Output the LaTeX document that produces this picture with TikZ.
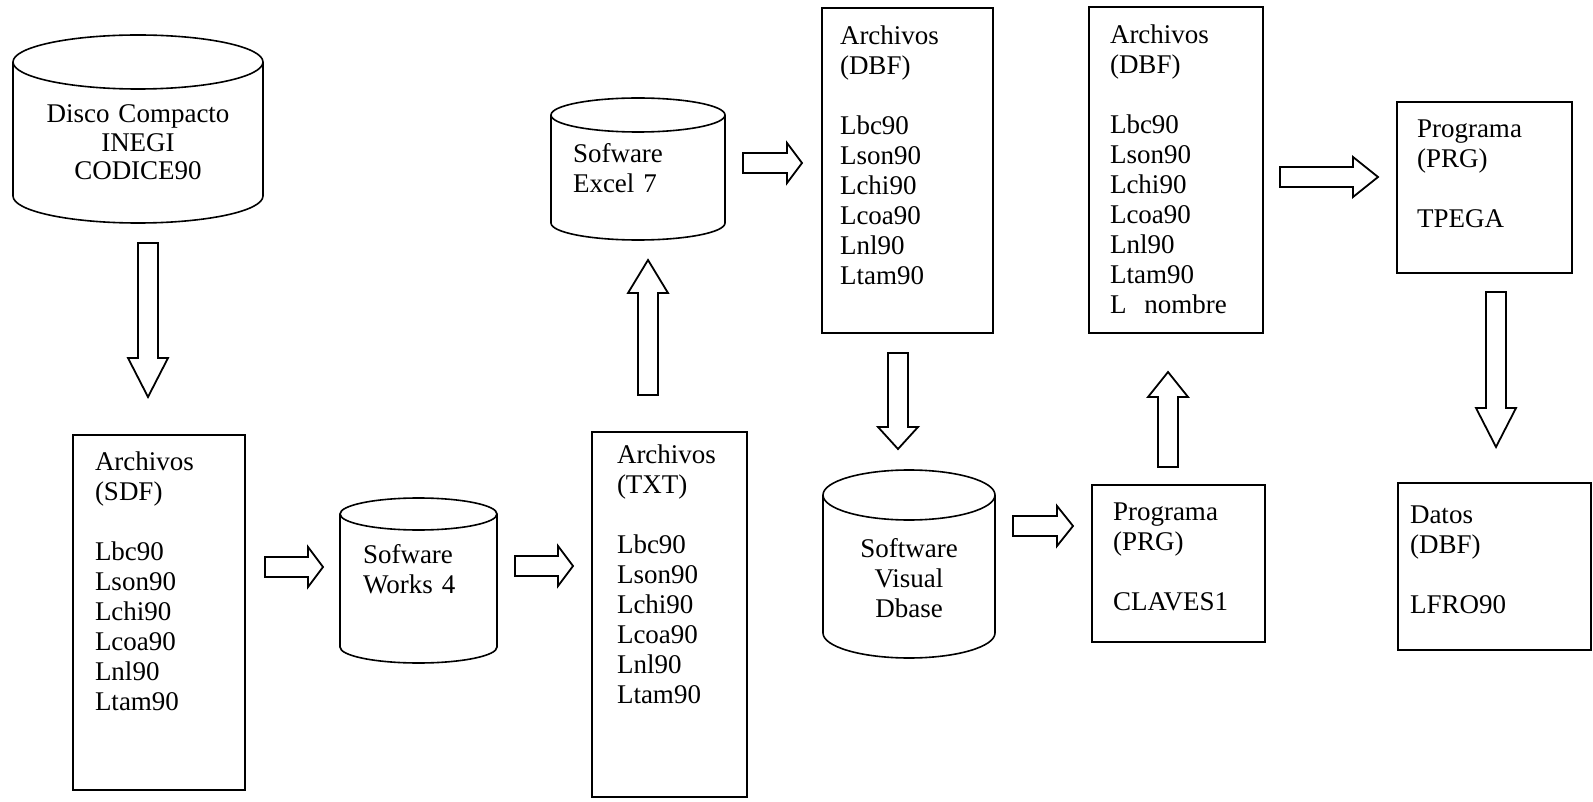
\documentclass[tikz,border=0pt]{standalone}
\usepackage{fontspec}
\setmainfont{Liberation Serif}
\usetikzlibrary{calc,positioning}

% flecha de bloque: [largo de la punta]{cola}{punta}
\newcommand\blockarr[3][22pt]{%
  \coordinate (bah) at ($(#3)!#1!(#2)$);
  \draw[flow] ($(#2)!10pt!90:(#3)$) -- ($(bah)!10pt!90:(#3)$) -- ($(bah)!20pt!90:(#3)$) -- (#3)
    -- ($(bah)!20pt!-90:(#3)$) -- ($(bah)!10pt!-90:(#3)$) -- ($(#2)!10pt!-90:(#3)$) -- cycle;}

% contorno de cilindro alrededor de un nodo: {nombre}{radio y}
\newcommand\cylout[2]{%
  \draw[cylline] let \p1=($(#1.north east)-(#1.north west)$) in
    (#1.north west) -- (#1.south west)
    arc[start angle=180, end angle=360, x radius=0.5*\x1, y radius=#2]
    -- (#1.north east)
    arc[start angle=0, end angle=360, x radius=0.5*\x1, y radius=#2];}

\begin{document}
\begin{tikzpicture}[x=1pt, y=-1pt,
    font=\fontsize{27}{30}\selectfont,
    box/.style={draw, line width=1.6pt, anchor=north west, align=left, inner ysep=0pt, outer sep=0pt},
    cyl/.style={anchor=north west, align=center, inner sep=0pt, outer sep=0pt},
    cylline/.style={line width=1.6pt},
    flow/.style={line width=1.8pt, line join=miter}]
    \useasboundingbox (0,0) rectangle (1593,802);

    % cilindros
    \node[cyl, text width=250pt, text height=61pt, text depth=73pt, font=\fontsize{27}{28.5}\selectfont] (disco) at (13,62)
        {Disco Compacto\\INEGI\\CODICE90};
    \cylout{disco}{27pt}
    \node[cyl, align=left, inner xsep=23pt, text width=111pt, text height=49pt, text depth=84pt] (works) at (340,514)
        {Sofware\\Works 4};
    \cylout{works}{16pt}
    \node[cyl, align=left, inner xsep=22pt, text width=130pt, text height=48pt, text depth=60pt] (excel) at (551,115)
        {Sofware\\Excel 7};
    \cylout{excel}{17pt}
    \node[cyl, text width=172pt, text height=62pt, text depth=76pt] (visual) at (823,495)
        {Software\\Visual\\Dbase};
    \cylout{visual}{25pt}

    % archivos y programas
    \node[box, inner xsep=22pt, text width=128pt, text height=35pt, text depth=320pt] (sdf) at (73,435)
        {Archivos\\(SDF)\\[30pt]Lbc90\\Lson90\\Lchi90\\Lcoa90\\Lnl90\\Ltam90};
    \node[box, inner xsep=25pt, text width=105pt, text height=31pt, text depth=334pt] (txt) at (592,432)
        {Archivos\\(TXT)\\[30pt]Lbc90\\Lson90\\Lchi90\\Lcoa90\\Lnl90\\Ltam90};
    \node[box, inner xsep=18pt, text width=135pt, text height=37pt, text depth=288pt] (dbfa) at (822,8)
        {Archivos\\(DBF)\\[30pt]Lbc90\\Lson90\\Lchi90\\Lcoa90\\Lnl90\\Ltam90};
    \node[box, inner xsep=21pt, text width=132pt, text height=37pt, text depth=289pt] (dbfb) at (1089,7)
        {Archivos\\(DBF)\\[30pt]Lbc90\\Lson90\\Lchi90\\Lcoa90\\Lnl90\\Ltam90\\L~~nombre};
    \node[box, inner xsep=21pt, text width=131pt, text height=35pt, text depth=122pt] (claves) at (1092,485)
        {Programa\\(PRG)\\[30pt]CLAVES1};
    \node[box, inner xsep=20pt, text width=135pt, text height=36pt, text depth=135pt] (tpega) at (1397,102)
        {Programa\\(PRG)\\[30pt]TPEGA};
    \node[box, inner xsep=12pt, text width=169pt, text height=40pt, text depth=127pt] (datos) at (1398,483)
        {Datos\\(DBF)\\[30pt]LFRO90};

    % flechas
    \coordinate (discoout) at (148,243);
    \coordinate (sdfin) at (148,397);
    \blockarr[39pt]{discoout}{sdfin}
    \coordinate (sdfout) at (265,567);
    \coordinate (worksin) at (323,567);
    \blockarr[15pt]{sdfout}{worksin}
    \coordinate (worksout) at (515,566);
    \coordinate (txtin) at (573,566);
    \blockarr[15pt]{worksout}{txtin}
    \coordinate (txtout) at (648,395);
    \coordinate (excelin) at (648,260);
    \blockarr[33pt]{txtout}{excelin}
    \coordinate (excelout) at (743,163);
    \coordinate (dbfain) at (802,163);
    \blockarr[15pt]{excelout}{dbfain}
    \coordinate (dbfaout) at (898,353);
    \coordinate (visualin) at (898,449);
    \blockarr[22pt]{dbfaout}{visualin}
    \coordinate (visualout) at (1013,526);
    \coordinate (clavesin) at (1073,526);
    \blockarr[16pt]{visualout}{clavesin}
    \coordinate (clavesout) at (1168,467);
    \coordinate (dbfbin) at (1168,372);
    \blockarr[25pt]{clavesout}{dbfbin}
    \coordinate (dbfbout) at (1280,177);
    \coordinate (tpegain) at (1378,177);
    \blockarr[25pt]{dbfbout}{tpegain}
    \coordinate (tpegaout) at (1496,292);
    \coordinate (datosin) at (1496,447);
    \blockarr[39pt]{tpegaout}{datosin}
\end{tikzpicture}
\end{document}
